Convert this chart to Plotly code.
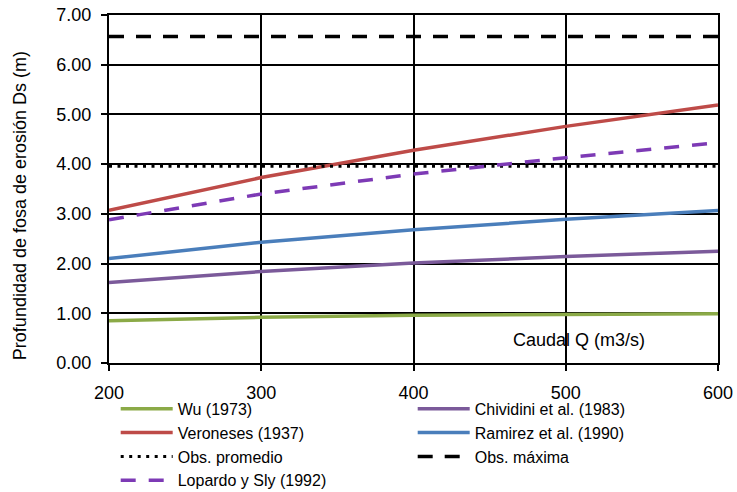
import plotly.graph_objects as go

# Caudal Q (m3/s)
caudal = [200, 300, 400, 500, 600]

# Profundidad de fosa de erosión Ds (m) por método
wu = [0.85, 0.92, 0.96, 0.97, 0.99]
chividini = [1.62, 1.84, 2.01, 2.14, 2.25]
veroneses = [3.07, 3.73, 4.28, 4.76, 5.19]
ramirez = [2.10, 2.43, 2.68, 2.89, 3.07]
lopardo = [2.88, 3.40, 3.80, 4.13, 4.43]

# Valores observados
obs_promedio = 3.96
obs_maxima = 6.57

y_ticks = [0, 1, 2, 3, 4, 5, 6, 7]
x_ticks = [200, 300, 400, 500, 600]

fig = go.Figure()

def add_line(name, y, color, dash="solid", width=3.5):
    fig.add_trace(go.Scatter(
        x=caudal, y=y, mode="lines", name=name,
        line=dict(color=color, width=width, dash=dash),
    ))

add_line("Wu (1973)", wu, "#8BAA47")
add_line("Chividini et al. (1983)", chividini, "#7B5A9A")
add_line("Veroneses (1937)", veroneses, "#BE4B48")
add_line("Ramirez et al. (1990)", ramirez, "#4A7EBB")
add_line("Obs. promedio", [obs_promedio] * len(caudal), "black", dash="3px,5.5px", width=3)
add_line("Obs. máxima", [obs_maxima] * len(caudal), "black", dash="15px,12px", width=3.5)
add_line("Lopardo y Sly (1992)", lopardo, "#7D3AB5", dash="15px,13px", width=3.5)

# Etiqueta del eje X dentro del área de trazado
fig.add_annotation(
    x=509, y=0.46, xref="x", yref="y", text="Caudal Q (m3/s)",
    showarrow=False, font=dict(size=18, color="black"),
)

# Título del eje Y
fig.add_annotation(
    x=-0.146, y=0.451, xref="paper", yref="paper",
    text="Profundidad de fosa de erosión Ds (m)", textangle=-90,
    showarrow=False, xanchor="center", yanchor="middle",
    font=dict(size=18, color="black"),
)

axis_common = dict(
    showline=True, linecolor="black", linewidth=2, mirror=True,
    showgrid=True, gridcolor="black", gridwidth=1.5,
    ticks="outside", ticklen=6, tickcolor="black", tickwidth=2,
    tickfont=dict(size=18, color="black"),
    zeroline=False,
)

fig.update_xaxes(range=[200, 600], tickvals=x_ticks, ticklabelstandoff=6, **axis_common)
fig.update_yaxes(range=[0, 7], tickvals=y_ticks, tickformat=".2f",
                 ticklabelstandoff=6, **axis_common)

fig.update_layout(
    width=737, height=492,
    margin=dict(l=109, r=19, t=15, b=129, autoexpand=False),
    paper_bgcolor="white", plot_bgcolor="white",
    font=dict(family="Liberation Sans, Arial, sans-serif", color="black"),
    showlegend=True,
    legend=dict(
        orientation="h", x=0.011, y=-0.083, xanchor="left", yanchor="top",
        entrywidth=230, entrywidthmode="pixels",
        bgcolor="rgba(0,0,0,0)",
        font=dict(size=16, color="black"), itemwidth=52,
        tracegroupgap=0,
    ),
)

fig.write_html("out.html")
